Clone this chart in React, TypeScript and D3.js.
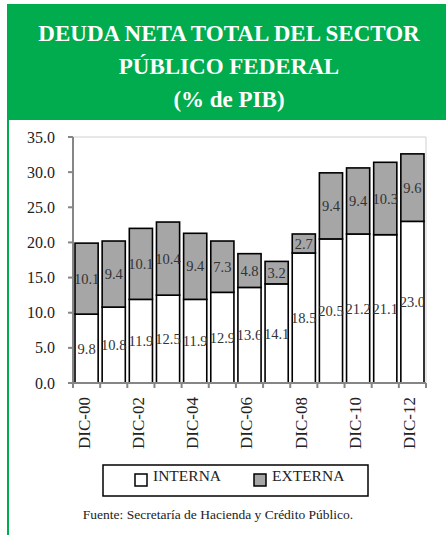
import * as d3 from 'd3';

const periods = ['DIC-00', 'DIC-01', 'DIC-02', 'DIC-03', 'DIC-04', 'DIC-05', 'DIC-06', 'DIC-07', 'DIC-08', 'DIC-09', 'DIC-10', 'DIC-11', 'DIC-12'];
const interna = [9.8, 10.8, 11.9, 12.5, 11.9, 12.9, 13.6, 14.1, 18.5, 20.5, 21.2, 21.1, 23.0];
const externa = [10.1, 9.4, 10.1, 10.4, 9.4, 7.3, 4.8, 3.2, 2.7, 9.4, 9.4, 10.3, 9.6];
const shownLabels = ['DIC-00', 'DIC-02', 'DIC-04', 'DIC-06', 'DIC-08', 'DIC-10', 'DIC-12'];
const yTicks = [0, 5, 10, 15, 20, 25, 30, 35];
const titleLines = ['DEUDA NETA TOTAL DEL SECTOR', 'PÚBLICO FEDERAL', '(% de PIB)'];
const seriesNames = ['INTERNA', 'EXTERNA'];

const width = 446;
const height = 535;
const green = '#00AC4E';
const gray = '#A6A6A6';
const axisGray = '#868686';
const font = 'Liberation Serif';
const plot = { top: 137, right: 426, bottom: 383, left: 73 };

export default function App() {
    const x = d3.scaleBand<string>().domain(periods).range([plot.left, plot.right]);
    const y = d3.scaleLinear().domain([0, 35]).range([plot.bottom, plot.top]);
    const fmt = d3.format('.1f');
    const inset = 2;
    const bw = x.bandwidth() - inset * 2;
    const boundaries = [...periods.map(p => x(p)!), plot.right];

    const labelRows = periods.flatMap((p, i) => [
        { p, v: interna[i], mid: interna[i] / 2 },
        { p, v: externa[i], mid: interna[i] + externa[i] / 2 }
    ]);

    const legendX = [135, 254];
    const legendFill = ['white', gray];

    return (
        <svg width={width} height={height} style={{ position: 'absolute', left: 0, top: 0, background: 'white' }}>
            {/* header */}
            <rect x={7} y={4} width={width - 7} height={116} fill={green} />
            <rect x={7} y={4} width={2} height={height - 4} fill={green} />
            {titleLines.map((t, i) => (
                <text key={t} x={229} y={41 + i * 33} textAnchor="middle" fontFamily={font}
                    fontWeight="bold" fontSize={23} fill="white">{t}</text>
            ))}

            {/* plot frame */}
            <path d={`M${plot.left},${plot.top}H${plot.right}V${plot.bottom}`} fill="none" stroke="#d0d0d0" strokeWidth={1} />

            {/* y axis */}
            <line x1={plot.left} x2={plot.left} y1={plot.top} y2={plot.bottom} stroke={axisGray} strokeWidth={2} />
            {yTicks.map(t => (
                <g key={t}>
                    <line x1={plot.left - 5} x2={plot.left} y1={y(t)} y2={y(t)} stroke={axisGray} strokeWidth={2} />
                    <text x={plot.left - 18} y={y(t)} dy="0.35em" textAnchor="end" fontFamily={font}
                        fontSize={16} fill="#222">{fmt(t)}</text>
                </g>
            ))}

            {/* stacked bars */}
            {periods.map((p, i) => (
                <g key={p}>
                    <rect x={x(p)! + inset} y={y(interna[i])} width={bw} height={y(0) - y(interna[i])}
                        fill="white" stroke="black" strokeWidth={1.6} />
                    <rect x={x(p)! + inset} y={y(interna[i] + externa[i])} width={bw}
                        height={y(interna[i]) - y(interna[i] + externa[i])}
                        fill={gray} stroke="black" strokeWidth={1.6} />
                </g>
            ))}
            {labelRows.map((d, i) => (
                <text key={i} x={x(d.p)! + x.bandwidth() / 2} y={y(d.mid)} dy="0.35em" textAnchor="middle"
                    fontFamily={font} fontSize={14.5} fill="#333">{fmt(d.v)}</text>
            ))}

            {/* x axis */}
            <line x1={plot.left} x2={plot.right} y1={plot.bottom} y2={plot.bottom} stroke={axisGray} strokeWidth={2} />
            {boundaries.map((b, i) => (
                <line key={i} x1={b} x2={b} y1={plot.bottom} y2={plot.bottom + 5} stroke={axisGray} strokeWidth={2} />
            ))}
            {shownLabels.map(d => (
                <text key={d} transform={`translate(${x(d)! + x.bandwidth() / 2 - 3},${plot.bottom + 14}) rotate(-90)`}
                    dy="0.35em" textAnchor="end" fontFamily={font} fontSize={17} fill="#222">{d}</text>
            ))}

            {/* legend */}
            <rect x={103} y={465} width={265} height={31} fill="white" stroke="black" strokeWidth={1.5} />
            {seriesNames.map((name, i) => (
                <g key={name}>
                    <rect x={legendX[i]} y={474} width={12} height={12} fill={legendFill[i]} stroke="black" strokeWidth={1.5} />
                    <text x={legendX[i] + 18} y={481} fontFamily={font} fontSize={15.5} fill="#222">{name}</text>
                </g>
            ))}

            <text x={218} y={519} textAnchor="middle" fontFamily={font} fontSize={13.5} fill="#222">
                Fuente: Secretaría de Hacienda y Crédito Público.
            </text>
        </svg>
    );
}
